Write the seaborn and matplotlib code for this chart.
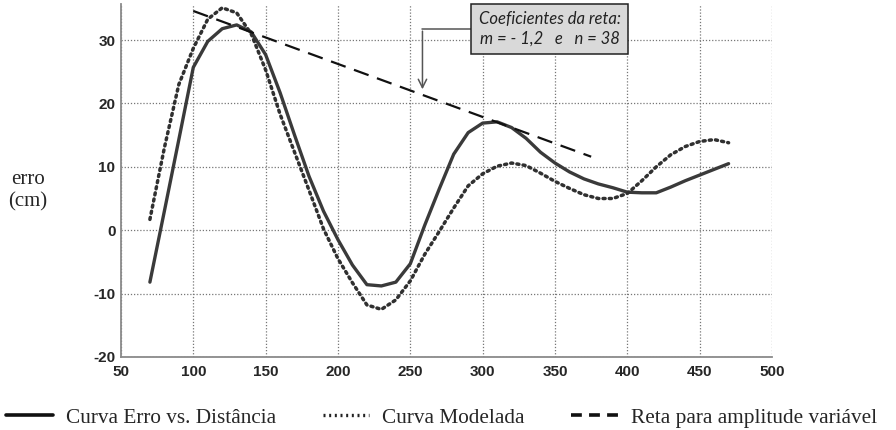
import numpy as np
import pandas as pd
import matplotlib
matplotlib.use("Agg")
import matplotlib.pyplot as plt
import seaborn as sns
from matplotlib.lines import Line2D
from matplotlib.patches import FancyArrowPatch

# ---- data ----
dist = [70, 80, 90, 100, 110, 120, 130, 140, 150, 160, 170, 180, 190, 200, 210,
        220, 230, 240, 250, 260, 270, 280, 290, 300, 310, 320, 330, 340, 350,
        360, 370, 380, 390, 400, 410, 420, 430, 440, 450, 460, 470]
erro = [-8.2, 3.0, 14.3, 25.7, 29.8, 31.8, 32.4, 31.3, 27.7, 21.7, 15.0, 8.5,
        3.0, -1.5, -5.5, -8.6, -8.8, -8.2, -5.3, 0.8, 6.5, 12.0, 15.4, 16.9,
        17.1, 16.2, 14.5, 12.3, 10.6, 9.2, 8.1, 7.3, 6.7, 6.0, 5.9, 5.9, 6.8,
        7.8, 8.7, 9.6, 10.5]
modelada = [1.7, 13.0, 23.0, 28.7, 33.3, 35.1, 34.3, 31.0, 25.3, 18.3, 12.3,
            6.3, 0.2, -4.5, -8.3, -11.8, -12.5, -11.0, -8.0, -3.8, -0.2, 3.5,
            7.0, 8.9, 10.1, 10.6, 10.2, 9.0, 7.7, 6.6, 5.6, 5.0, 5.0, 5.8, 7.8,
            10.0, 11.9, 13.2, 14.0, 14.3, 13.8]
reta_x = [100, 375]
reta_y = [34.6, 11.6]

xticks = [50, 100, 150, 200, 250, 300, 350, 400, 450, 500]
yticks = [-20, -10, 0, 10, 20, 30]

legend_labels = ["Curva Erro vs. Distância", "Curva Modelada",
                 "Reta para amplitude variável"]
box_text = "Coeficientes da reta:\nm = - 1,2   e   n = 38"

# ---- figure ----
sns.set_style("white")
plt.rcParams['font.family'] = ['Liberation Sans', 'DejaVu Sans']
plt.rcParams['axes.unicode_minus'] = False

fig = plt.figure(figsize=(8.96, 4.30), dpi=100)
ax = fig.add_axes([0.135, 0.170, 0.7266, 0.8207])

df1 = pd.DataFrame({"x": dist, "y": erro})
df2 = pd.DataFrame({"x": dist, "y": modelada})
df3 = pd.DataFrame({"x": reta_x, "y": reta_y})

sns.lineplot(data=df1, x="x", y="y", ax=ax, color="#3a3a3a", lw=2.4,
             solid_joinstyle="round")
sns.lineplot(data=df2, x="x", y="y", ax=ax, color="#303030", lw=2.5,
             linestyle=(0, (0.6, 1.2)), dash_capstyle="round")
sns.lineplot(data=df3, x="x", y="y", ax=ax, color="#111111", lw=1.6,
             linestyle=(0, (7, 4)))

ax.set_xlim(50, 500)
ax.set_ylim(-20, 35.7)
ax.set_xticks(xticks)
ax.set_yticks(yticks)
ax.set_xlabel("")
ax.set_ylabel("")
ax.grid(True, color="#777777", linestyle=(0, (1, 1.5)), lw=0.9)
ax.set_axisbelow(True)
for s in ["top", "right"]:
    ax.spines[s].set_visible(False)
for s in ["left", "bottom"]:
    ax.spines[s].set_color("#8a8a8a")
    ax.spines[s].set_linewidth(1.3)
ax.tick_params(length=0, labelsize=11, pad=4)
ax.tick_params(axis="x", pad=6)
for lab in ax.get_xticklabels() + ax.get_yticklabels():
    lab.set_fontweight("bold")

fig.text(0.031, 0.556, "erro\n(cm)", family="Liberation Serif", fontsize=15,
         ha="center", va="center", linespacing=1.25)

# annotation box
ax.text(346.5, 31.8, box_text, ha="center", va="center", fontsize=12,
        style="italic", family=["Lato", "DejaVu Sans"], color="#222222",
        linespacing=1.25,
        bbox=dict(boxstyle="square,pad=0.45", fc="#d9d9d9", ec="#222222",
                  lw=1.1))
ax.plot([258.4, 292], [31.8, 31.8], color="#555555", lw=1.1)
arr = FancyArrowPatch((258.4, 31.85), (258.4, 21.8), arrowstyle="->,head_length=6,head_width=3",
                      color="#555555", lw=1.1, mutation_scale=1)
ax.add_patch(arr)

handles = [Line2D([], [], color="#111111", lw=2.6),
           Line2D([], [], color="#222222", lw=2.4, linestyle=(0, (0.6, 1.1))),
           Line2D([], [], color="#111111", lw=2.6, linestyle=(0, (3, 2)))]
fig.legend(handles, legend_labels, loc="center", bbox_to_anchor=(0.493, 0.028),
           ncol=3, frameon=False, prop={"family": "Liberation Serif", "size": 15.3},
           handlelength=2.2, handletextpad=0.6, columnspacing=2.2,
           borderaxespad=0, borderpad=0)

fig.savefig("out.png", dpi=100)
